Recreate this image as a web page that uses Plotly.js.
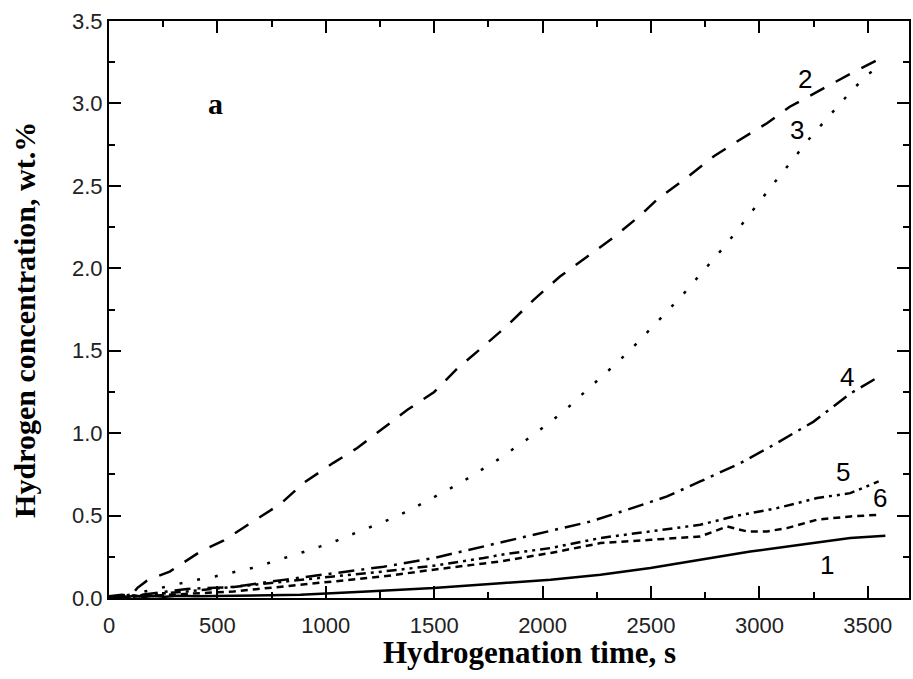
<!DOCTYPE html>
<html><head><meta charset="utf-8">
<script src="https://cdn.plot.ly/plotly-3.0.1.min.js"></script>
<style>html,body{margin:0;padding:0;background:#fff}#chart{width:913px;height:679px}</style>
</head><body><div id="chart"></div>
<script>
// Curve 1 (solid)
const t1 = [0,40,80,120,160,200,260,320,400,575,883,1190,1497,1806,2037,2267,2497,2727,2958,3189,3419,3581];
const c1 = [0.0,0.012,0.004,0.015,0.006,0.012,0.008,0.014,0.01,0.012,0.02,0.04,0.06,0.09,0.111,0.141,0.182,0.232,0.282,0.323,0.364,0.378];
// Curve 2 (long dash)
const t2 = [0,60,100,130,175,200,280,420,530,650,790,900,1035,1145,1265,1375,1500,1605,1730,1835,1960,2080,2205,2330,2450,2530,2665,2790,2910,3035,3140,3280,3420,3540,3580];
const c2 = [0.01,0.02,0.01,0.06,0.105,0.12,0.16,0.28,0.35,0.45,0.57,0.70,0.82,0.91,1.03,1.14,1.25,1.39,1.53,1.65,1.81,1.95,2.07,2.19,2.32,2.42,2.55,2.68,2.78,2.88,2.98,3.08,3.18,3.26,3.28];
// Curve 3 (dotted)
const t3 = [0,100,200,300,406,490,575,660,736,813,890,975,1052,1136,1213,1298,1375,1459,1536,1620,1697,1782,1859,1943,2028,2105,2186,2263,2346,2420,2497,2569,2643,2709,2777,2844,2907,2969,3031,3093,3155,3220,3286,3355,3427,3504,3560];
const c3 = [0,0.02,0.05,0.08,0.111,0.131,0.158,0.182,0.212,0.242,0.276,0.313,0.349,0.394,0.434,0.479,0.525,0.585,0.636,0.697,0.761,0.828,0.899,0.976,1.06,1.14,1.24,1.33,1.43,1.525,1.63,1.73,1.834,1.935,2.04,2.14,2.246,2.35,2.46,2.56,2.66,2.77,2.87,2.97,3.08,3.18,3.23];
// Curve 4 (dash-dot)
const t4 = [0,150,360,575,805,1036,1267,1497,1728,1806,2037,2221,2389,2574,2727,2912,3066,3250,3419,3535];
const c4 = [0,0.02,0.055,0.067,0.11,0.15,0.19,0.242,0.313,0.333,0.404,0.464,0.535,0.616,0.707,0.818,0.929,1.07,1.24,1.33];
// Curve 5 (dash-dot-dot)
const t5 = [0,150,360,575,805,1036,1267,1497,1728,1806,2037,2267,2497,2727,2882,3081,3266,3419,3550];
const c5 = [0,0.015,0.04,0.067,0.10,0.131,0.161,0.196,0.242,0.262,0.303,0.364,0.404,0.444,0.495,0.545,0.606,0.636,0.707];
// Curve 6 (short dash)
const t6 = [0,150,360,575,805,1036,1267,1497,1728,1806,2037,2267,2497,2727,2851,2943,3035,3127,3266,3419,3558];
const c6 = [0,0.01,0.025,0.04,0.07,0.10,0.131,0.172,0.212,0.222,0.273,0.333,0.353,0.373,0.434,0.404,0.404,0.424,0.475,0.495,0.505];

const curveLabels = ["1","2","3","4","5","6"];
const labelX = [3312,3210,3173,3404,3386,3556];
const labelY = [0.20,3.15,2.84,1.34,0.764,0.606];

const xTitle = "Hydrogenation time, s";
const yTitle = "Hydrogen concentration, wt.%";
const panelLabel = "a";

const series = [[t1,c1,"solid"],[t2,c2,"16px,13px"],[t3,c3,"3px,15px"],[t4,c4,"16px,7px,3px,7px"],[t5,c5,"10px,5px,3px,5px,3px,5px"],[t6,c6,"7px,5px"]];
const traces = series.map(s => ({x:s[0], y:s[1], type:"scatter", mode:"lines",
  line:{color:"#000", width:2.5, dash:s[2]}, showlegend:false, hoverinfo:"skip"}));

const serifBold = {family:"Liberation Serif, Times New Roman, serif", color:"#000", weight:"bold"};
const annotations = curveLabels.map((t,i) => ({x:labelX[i], y:labelY[i], xref:"x", yref:"y", text:t, showarrow:false,
  font:{family:"Liberation Sans, Arial, sans-serif", size:26, color:"#000"}}));
annotations.push({x:489, y:3.0, xref:"x", yref:"y", text:panelLabel, showarrow:false, font:Object.assign({size:30}, serifBold)});
// axis titles
annotations.push({x:0.526, y:-0.094, xref:"paper", yref:"paper", xanchor:"center", yanchor:"middle", text:xTitle, showarrow:false,
  font:Object.assign({size:31}, serifBold)});
annotations.push({x:-0.105, y:0.482, xref:"paper", yref:"paper", xanchor:"center", yanchor:"middle", textangle:-90, text:yTitle, showarrow:false,
  font:Object.assign({size:30}, serifBold)});

const axisCommon = {showgrid:false, zeroline:false, showline:true, linecolor:"#000", linewidth:2, mirror:"allticks",
  ticks:"inside", ticklen:12, tickwidth:2, tickcolor:"#000",
  tickfont:{family:"Liberation Sans, Arial, sans-serif", size:22, color:"#222"}};

const layout = {
  width:913, height:679, margin:{l:109, r:4, t:21, b:81},
  paper_bgcolor:"#fff", plot_bgcolor:"#fff",
  xaxis: Object.assign({}, axisCommon, {range:[0,3690], tickmode:"linear", tick0:0, dtick:500,
    minor:{tickmode:"linear", tick0:0, dtick:250, ticks:"inside", ticklen:6, tickwidth:2, tickcolor:"#000", showgrid:false},
    ticklabelstandoff:7}),
  yaxis: Object.assign({}, axisCommon, {range:[0,3.5], tickmode:"linear", tick0:0, dtick:0.5, tickformat:".1f",
    minor:{tickmode:"linear", tick0:0, dtick:0.25, ticks:"inside", ticklen:6, tickwidth:2, tickcolor:"#000", showgrid:false}}),
  annotations: annotations
};
Plotly.newPlot("chart", traces, layout, {displayModeBar:false});
</script></body></html>
